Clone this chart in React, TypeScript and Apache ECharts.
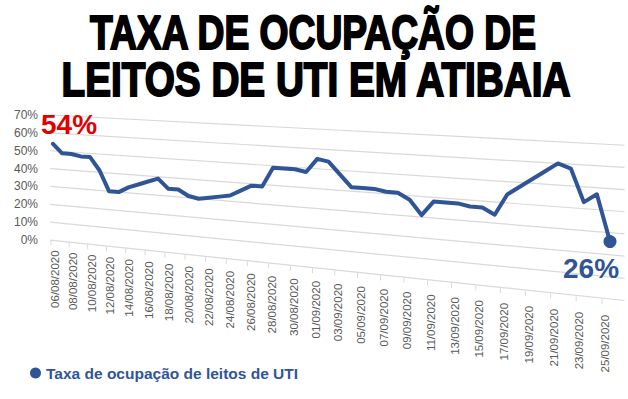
import React, { useEffect, useRef } from 'react';
import * as echarts from 'echarts';

const titleLines: string[] = ['TAXA DE OCUPAÇÃO DE', 'LEITOS DE UTI EM ATIBAIA'];
const seriesName = 'Taxa de ocupação de leitos de UTI';

const dates: string[] = [
  '06/08/2020', '07/08/2020', '08/08/2020', '09/08/2020', '10/08/2020', '11/08/2020',
  '12/08/2020', '13/08/2020', '14/08/2020', '15/08/2020', '16/08/2020', '17/08/2020',
  '18/08/2020', '19/08/2020', '20/08/2020', '21/08/2020', '22/08/2020', '23/08/2020',
  '24/08/2020', '25/08/2020', '26/08/2020', '27/08/2020', '28/08/2020', '29/08/2020',
  '30/08/2020', '31/08/2020', '01/09/2020', '02/09/2020', '03/09/2020', '04/09/2020',
  '05/09/2020', '06/09/2020', '07/09/2020', '08/09/2020', '09/09/2020', '10/09/2020',
  '11/09/2020', '12/09/2020', '13/09/2020', '14/09/2020', '15/09/2020', '16/09/2020',
  '17/09/2020', '18/09/2020', '19/09/2020', '20/09/2020', '21/09/2020', '22/09/2020',
  '23/09/2020', '24/09/2020', '25/09/2020',
];

const occupancy: number[] = [
  54, 49, 49, 48, 48, 41, 30, 30, 33, 35,
  37, 39, 34, 34, 31, 30, 31, 32, 33, 36,
  39, 39, 49, 49, 49, 48, 55, 54, 48, 42,
  42, 42, 41, 41, 38, 31, 38, 38, 38, 37,
  37, 34, 44, 48, 52, 56, 60, 58, 43, 47,
  26,
];

const yTicks: number[] = [0, 10, 20, 30, 40, 50, 60, 70];

const BLUE = '#2f5597';
const GRAY = '#595959';
const FONT = '"Liberation Sans", Arial, sans-serif';

// perspective warp of the flat cartesian (left edge of plot = reference plane)
const GL = 53, GW = 557, BASE = 240;
function warp(p: number[]): number[] {
  const u = (p[0] - GL) / GW;
  const g = (448 * u + 100 * u * u) / 548;
  const x = GL + GW * g;
  const f = (x - 50) / 570;
  const h = BASE - p[1];
  return [x, BASE + 60 * f - h * (1 + 0.24 * f)];
}
function fOf(x: number) { return (x - 50) / 570; }

export default function App() {
  const ref = useRef<HTMLDivElement>(null);
  useEffect(() => {
    if (!ref.current) return;
    const chart = echarts.init(ref.current, null, { renderer: 'svg' });
    const last = occupancy.length - 1;
    const option: any = {
      animation: false,
      backgroundColor: '#ffffff',
      grid: { left: GL, right: 628 - GL - GW, top: 115, bottom: 399 - BASE },
      xAxis: { type: 'value', min: 0, max: last, show: false },
      yAxis: {
        type: 'value', min: 0, max: 70, interval: 10,
        axisLine: { show: false }, axisTick: { show: false }, splitLine: { show: false },
        axisLabel: { formatter: '{value}%', color: GRAY, fontSize: 12, margin: 15, fontFamily: FONT },
      },
      legend: {
        data: [seriesName], left: 25, top: 360, icon: 'circle', itemWidth: 11, itemHeight: 11,
        textStyle: { color: BLUE, fontWeight: 'bold', fontSize: 15.5, fontFamily: FONT },
        selectedMode: false,
      },
      graphic: titleLines.map((t, k) => ({
        type: 'text', x: k === 0 ? 313 : 316, y: k === 0 ? 32 : 79, scaleX: k === 0 ? 0.76 : 0.79,
        style: {
          text: t, fontSize: 49, fontWeight: 'bold', fontFamily: FONT, fill: '#000',
          stroke: '#000', lineWidth: 2, align: 'center', verticalAlign: 'middle',
        },
      })),
      series: [
        {
          type: 'custom', name: 'grid', silent: true, z: 1,
          data: yTicks.map((v) => [0, v]),
          renderItem: (params: any, api: any) => {
            const v = api.value(1);
            const a = warp(api.coord([-0.3, v]));
            const b = warp(api.coord([last + 1.1, v]));
            return { type: 'line', shape: { x1: a[0], y1: a[1], x2: b[0], y2: b[1] }, style: { stroke: '#d9d9d9', lineWidth: 1.2 } };
          },
        },
        {
          type: 'custom', name: 'xlabels', silent: true, z: 2,
          data: dates.map((d, i) => [i, 0]),
          renderItem: (params: any, api: any) => {
            const i = params.dataIndex;
            if (i % 2 !== 0) return null;
            const p = warp(api.coord([i, 0]));
            const f = fOf(p[0]);
            const tx = p[0] - 2 - 6 * f;
            return {
              type: 'group',
              children: [
                { type: 'line', shape: { x1: tx, y1: p[1], x2: tx, y2: p[1] + 5 }, style: { stroke: '#d9d9d9', lineWidth: 1 } },
                {
                  type: 'text', x: p[0] + 2 - 7 * f, y: p[1] + 10 + 6 * f, rotation: Math.PI / 2,
                  style: { text: dates[i], fontSize: 11.5, fontFamily: FONT, fill: GRAY, align: 'right', verticalAlign: 'middle' },
                },
              ],
            };
          },
        },
        {
          type: 'custom', name: seriesName, silent: true, z: 5,
          itemStyle: { color: BLUE },
          data: occupancy.map((v, i) => [i, v]),
          renderItem: (params: any, api: any) => {
            const i = params.dataIndex;
            if (i === 0) {
              const pts = occupancy.map((v, k) => warp(api.coord([k, v])));
              return {
                type: 'group',
                children: [
                  { type: 'polyline', shape: { points: pts }, style: { stroke: BLUE, lineWidth: 4, fill: null, lineJoin: 'round', lineCap: 'round' } },
                  {
                    type: 'text', x: pts[0][0] + 16, y: pts[0][1] - 19,
                    style: { text: occupancy[0] + '%', fontSize: 28, fontWeight: 'bold', fontFamily: FONT, fill: '#e00000', align: 'center', verticalAlign: 'middle' },
                  },
                ],
              };
            }
            if (i === last) {
              const p = warp(api.coord([i, occupancy[i]]));
              return {
                type: 'group',
                children: [
                  { type: 'circle', shape: { cx: p[0], cy: p[1], r: 6.5 }, style: { fill: BLUE } },
                  {
                    type: 'text', x: p[0] - 19, y: p[1] + 27,
                    style: { text: occupancy[i] + '%', fontSize: 28, fontWeight: 'bold', fontFamily: FONT, fill: BLUE, align: 'center', verticalAlign: 'middle' },
                  },
                ],
              };
            }
            return null;
          },
        },
      ],
    };
    chart.setOption(option);
    return () => chart.dispose();
  }, []);
  return <div ref={ref} style={{ position: 'absolute', left: 0, top: 0, width: 628, height: 399 }} />;
}
